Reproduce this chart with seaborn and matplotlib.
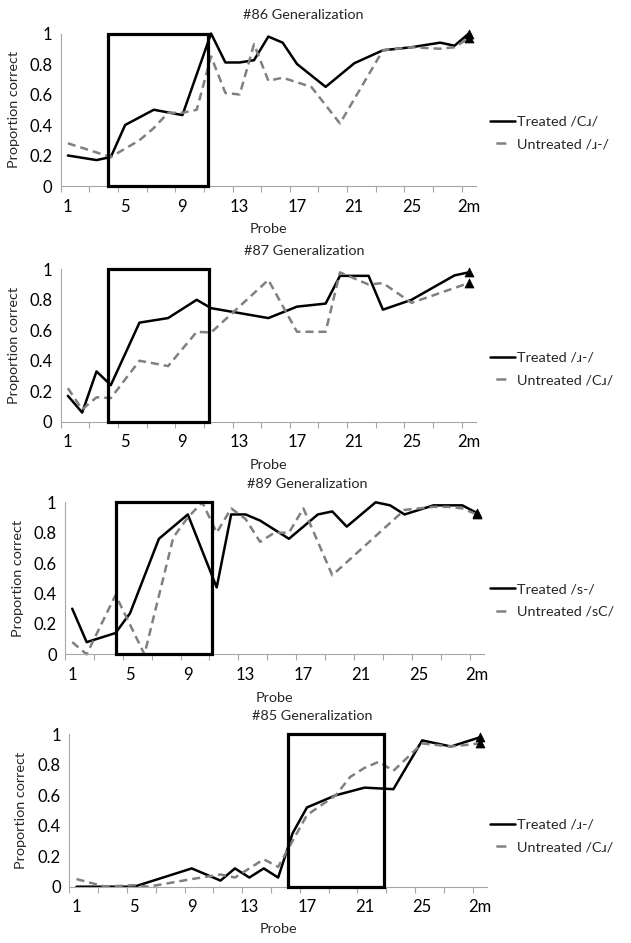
import numpy as np
import pandas as pd
import matplotlib
matplotlib.use("Agg")
import matplotlib.pyplot as plt
from matplotlib.patches import Rectangle
from matplotlib.lines import Line2D
import seaborn as sns

# ---------------- data ----------------
probe_tick_pos = [1, 5, 9, 13, 17, 21, 25, 29]
probe_tick_labels = ["1", "5", "9", "13", "17", "21", "25", "2m"]
y_ticks = [0, 0.2, 0.4, 0.6, 0.8, 1.0]
y_tick_labels = ["0", "0.2", "0.4", "0.6", "0.8", "1"]

titles = ["#86 Generalization", "#87 Generalization", "#89 Generalization", "#85 Generalization"]
treated_labels = ["Treated /C\u0279/", "Treated /\u0279-/", "Treated /s-/", "Treated /\u0279-/"]
untreated_labels = ["Untreated /\u0279-/", "Untreated /C\u0279/", "Untreated /sC/", "Untreated /C\u0279/"]

# treatment phase (boxed region), in probe units
phase_start = [3.77, 3.8, 4.03, 15.71]
phase_end = [10.76, 10.85, 10.65, 22.35]

p86_treated_x = [1, 3, 4, 5, 7, 9, 11, 12, 13, 14, 15, 16, 17, 19, 21, 23, 25, 27, 28, 29]
p86_treated_y = [0.20, 0.17, 0.19, 0.40, 0.50, 0.465, 1.0, 0.81, 0.81, 0.825, 0.98, 0.94, 0.80, 0.65, 0.805, 0.89, 0.91, 0.94, 0.92, 1.0]
p86_untreated_x = [1, 4, 6, 7, 8, 9, 10, 11, 12, 13, 14, 15, 16, 18, 20, 23, 25, 27, 28, 29]
p86_untreated_y = [0.28, 0.19, 0.30, 0.38, 0.48, 0.48, 0.50, 0.85, 0.61, 0.60, 0.93, 0.69, 0.71, 0.65, 0.41, 0.89, 0.91, 0.90, 0.91, 0.97]

p87_treated_x = [1, 2, 3, 4, 6, 8, 10, 11, 15, 17, 19, 20, 21, 22, 23, 25, 28, 29]
p87_treated_y = [0.17, 0.06, 0.33, 0.24, 0.65, 0.68, 0.80, 0.745, 0.68, 0.755, 0.775, 0.957, 0.957, 0.957, 0.735, 0.80, 0.96, 0.98]
p87_untreated_x = [1, 2, 3, 4, 6, 8, 10, 11, 15, 17, 19, 20, 22, 23, 25, 29]
p87_untreated_y = [0.22, 0.08, 0.16, 0.155, 0.40, 0.365, 0.59, 0.585, 0.93, 0.59, 0.59, 0.98, 0.90, 0.91, 0.78, 0.91]

p89_treated_x = [1, 2, 4, 5, 7, 9, 11, 12, 13, 14, 16, 18, 19, 20, 22, 23, 24, 25, 26, 27, 28, 29]
p89_treated_y = [0.30, 0.08, 0.14, 0.27, 0.76, 0.92, 0.44, 0.92, 0.92, 0.88, 0.76, 0.92, 0.94, 0.84, 1.0, 0.98, 0.92, 0.95, 0.98, 0.98, 0.98, 0.93]
p89_untreated_x = [1, 2, 4, 6, 8, 9, 10, 11, 12, 13, 14, 15, 16, 17, 19, 24, 25, 26, 27, 28, 29]
p89_untreated_y = [0.08, 0.0, 0.39, 0.0, 0.77, 0.90, 1.0, 0.80, 0.96, 0.89, 0.74, 0.80, 0.80, 0.96, 0.52, 0.95, 0.96, 0.97, 0.97, 0.96, 0.92]

p85_treated_x = [1, 5, 9, 11, 12, 13, 14, 15, 16, 17, 19, 21, 23, 25, 27, 29]
p85_treated_y = [0.0, 0.0, 0.12, 0.04, 0.12, 0.06, 0.12, 0.06, 0.35, 0.52, 0.60, 0.65, 0.64, 0.96, 0.92, 0.98]
p85_untreated_x = [1, 3, 5, 6, 9, 11, 12, 14, 15, 16, 17, 19, 20, 21, 22, 23, 25, 27, 29]
p85_untreated_y = [0.05, 0.0, 0.01, 0.0, 0.05, 0.08, 0.06, 0.18, 0.13, 0.30, 0.47, 0.60, 0.72, 0.78, 0.82, 0.76, 0.94, 0.92, 0.94]

series_x = [(p86_treated_x, p86_untreated_x), (p87_treated_x, p87_untreated_x),
            (p89_treated_x, p89_untreated_x), (p85_treated_x, p85_untreated_x)]
series_y = [(p86_treated_y, p86_untreated_y), (p87_treated_y, p87_untreated_y),
            (p89_treated_y, p89_untreated_y), (p85_treated_y, p85_untreated_y)]

# ---------------- layout (pixels) ----------------
W, H, DPI = 631, 943, 100
layout = [
    # left, right, top, bottom, title_x, title_y, ylabel_x, xlabel_y, legend_mid_y
    (60.7, 476, 33.5, 186, 303, 15, 14, 229, 133),
    (60.7, 476, 269.3, 421.7, 304, 251, 14, 465, 369),
    (65, 484, 502.3, 654.3, 307, 484, 18, 697.7, 600.5),
    (69.3, 487, 734.3, 886.7, 312, 716, 21, 929, 836),
]

GRAY = "#808080"
AXGRAY = "#A6A6A6"
DASH = (5.8, 3.6)

sns.set_theme(style="white")
plt.rcParams["font.family"] = ["Lato", "DejaVu Sans"]
plt.rcParams["lines.scale_dashes"] = False

fig = plt.figure(figsize=(W / DPI, H / DPI), dpi=DPI)
fig.patch.set_facecolor("white")

for i in range(4):
    l, r, t, b, tx, ty, ylx, xly, lgy = layout[i]
    ax = fig.add_axes([l / W, 1 - b / H, (r - l) / W, (b - t) / H])
    ax.set_facecolor("white")
    txs, uxs = series_x[i]
    tys, uys = series_y[i]
    df = pd.DataFrame({
        "probe": list(txs) + list(uxs),
        "prop": list(tys) + list(uys),
        "series": ["Treated"] * len(txs) + ["Untreated"] * len(uxs),
    })
    sns.lineplot(data=df, x="probe", y="prop", hue="series", style="series",
                 hue_order=["Treated", "Untreated"], style_order=["Treated", "Untreated"],
                 palette={"Treated": "black", "Untreated": GRAY},
                 dashes={"Treated": "", "Untreated": DASH},
                 linewidth=1.8, estimator=None, sort=True, legend=False, ax=ax, clip_on=False)
    ends = df.groupby("series", as_index=False).last()
    sns.scatterplot(data=ends, x="probe", y="prop", marker="^", color="black",
                    edgecolor="black", linewidth=0.5, s=42, legend=False, ax=ax,
                    clip_on=False, zorder=5)
    ax.add_patch(Rectangle((phase_start[i], 0), phase_end[i] - phase_start[i], 1.0,
                           fill=False, ec="black", lw=2.3, zorder=6, clip_on=False))

    ax.set_xlim(0.5, 29.5)
    ax.set_ylim(0, 1)
    ax.set_xticks(probe_tick_pos)
    ax.set_xticklabels(probe_tick_labels)
    ax.set_xticks(np.arange(0.5, 29.0, 2), minor=True)
    ax.set_yticks(y_ticks)
    ax.set_yticklabels(y_tick_labels)
    ax.tick_params(axis="x", which="major", length=0, pad=9, labelsize=12, labelcolor="black")
    ax.tick_params(axis="x", which="minor", length=4.5, width=0.8, color=AXGRAY, direction="out", bottom=True)
    ax.tick_params(axis="y", which="major", length=0, pad=6, labelsize=12, labelcolor="black")
    for s in ["top", "right"]:
        ax.spines[s].set_visible(False)
    for s in ["left", "bottom"]:
        ax.spines[s].set_color(AXGRAY)
        ax.spines[s].set_linewidth(0.8)
    ax.set_xlabel("")
    ax.set_ylabel("")

    fig.text(tx / W, 1 - ty / H, titles[i], ha="center", va="center", fontsize=10.4)
    fig.text(ylx / W, 1 - (t + b) / 2 / H, "Proportion correct", rotation=90,
             ha="center", va="center", fontsize=10.4)
    fig.text((l + r) / 2 / W, 1 - xly / H, "Probe", ha="center", va="center", fontsize=10.4)

    handles = [
        Line2D([], [], color="black", lw=1.8),
        Line2D([], [], color=GRAY, lw=1.8, linestyle=(13.0, (7.2, 10.0))),
    ]
    ax.legend(handles, [treated_labels[i], untreated_labels[i]], loc="center left",
              bbox_to_anchor=(490 / W, 1 - lgy / H), bbox_transform=fig.transFigure,
              frameon=False, fontsize=10.4, handlelength=1.7, handletextpad=0.2,
              labelspacing=0.7, borderpad=0, borderaxespad=0)

fig.savefig("out.png", dpi=DPI, facecolor="white")
